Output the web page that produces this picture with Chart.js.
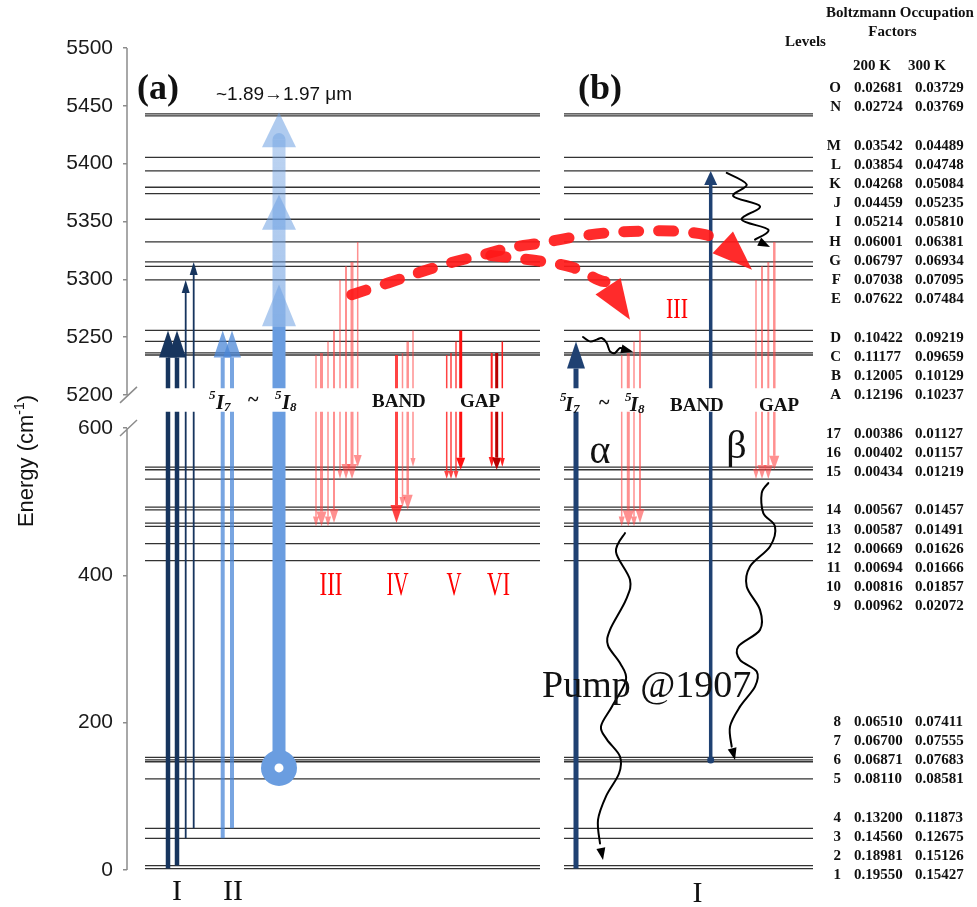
<!DOCTYPE html>
<html>
<head>
<meta charset="utf-8">
<script src="https://cdn.jsdelivr.net/npm/chart.js@4.4.0/dist/chart.umd.min.js"></script>
<style>
  html, body { margin: 0; padding: 0; background: #fff; }
  canvas { display: block; }
</style>
</head>
<body>
<canvas id="niveis" width="977" height="907"></canvas>
<script>
// Níveis de energia (cm-1)
const niveisSup = ["A", "B", "C", "D", "E", "F", "G", "H", "I", "J", "K", "L", "M", "N", "O"];
const energiaSup = [5234.5, 5236.3, 5246.3, 5255.8, 5299.4, 5311.2, 5315.0, 5332.3, 5351.9, 5374.1, 5379.6, 5393.7, 5405.5, 5441.3, 5443.1];
const niveisInf = ["1", "2", "3", "4", "5", "6", "7", "8", "9", "10", "11", "12", "13", "14", "15", "16", "17"];
const energiaInf = [2, 6, 43, 56.6, 123.6, 147, 149.5, 153, 420, 443, 466.4, 471, 489, 492.7, 530.8, 543.4, 547];

const ticksEnergia = [0, 200, 400, 600, 5200, 5250, 5300, 5350, 5400, 5450, 5500];

// Tabela de fatores de ocupação de Boltzmann
const tabelaNiveis = ["O", "N", "M", "L", "K", "J", "I", "H", "G", "F", "E", "D", "C", "B", "A",
  "17", "16", "15", "14", "13", "12", "11", "10", "9", "8", "7", "6", "5", "4", "3", "2", "1"];
const fator200K = [0.02681, 0.02724, 0.03542, 0.03854, 0.04268, 0.04459, 0.05214, 0.06001, 0.06797, 0.07038, 0.07622,
  0.10422, 0.11177, 0.12005, 0.12196, 0.00386, 0.00402, 0.00434, 0.00567, 0.00587, 0.00669, 0.00694, 0.00816, 0.00962,
  0.06510, 0.06700, 0.06871, 0.08110, 0.13200, 0.14560, 0.18981, 0.19550];
const fator300K = [0.03729, 0.03769, 0.04489, 0.04748, 0.05084, 0.05235, 0.05810, 0.06381, 0.06934, 0.07095, 0.07484,
  0.09219, 0.09659, 0.10129, 0.10237, 0.01127, 0.01157, 0.01219, 0.01457, 0.01491, 0.01626, 0.01666, 0.01857, 0.02072,
  0.07411, 0.07555, 0.07683, 0.08581, 0.11873, 0.12675, 0.15126, 0.15427];

// Transições (nível inicial -> nível final)
const bombeioI = [["1", "D"], ["2", "D"], ["3", "E"], ["4", "G"]];
const bombeioII = [["3", "D"], ["4", "D"]];
const decaimentoIII = [["A", "11"], ["B", "11"], ["C", "11"], ["D", "12"], ["E", "15"], ["F", "15"], ["G", "15"], ["H", "17"]];
const decaimentoIV = [["A", "12"], ["B", "14"], ["C", "13"], ["D", "17"]];
const decaimentoV = [["A", "15"], ["B", "15"], ["C", "15"], ["D", "16"]];
const decaimentoVI = [["B", "17"], ["B", "16"], ["C", "17"]];
const bombeioAlfa = [["1", "C"]];
const decaimentoAlfa = [["A", "11"], ["B", "11"], ["C", "11"], ["D", "12"]];
const bombeioBeta = [["7", "L"]];
const decaimentoBeta = [["E", "15"], ["F", "15"], ["G", "15"], ["H", "16"]];

// Bombeio largo do painel (a): início, topo e pontas (cm-1)
const bombeioLargo = { de: 138.6, ate: 5420.8 };
const pontasLargo = [[5444.5, 5414.2], [5373.2, 5342.9], [5295.4, 5259.3]];

// Curvas onduladas e tracejadas [x, energia]
const ondaAlfaTopo = [[583, 5250.1], [590, 5246.3], [596.7, 5247.8], [601.7, 5249.2], [606.7, 5244.9], [610, 5237.6], [615, 5236.3], [620, 5240.6], [625, 5239.1], [633, 5237.4]];
const ondaBetaTopo = [[726.7, 5392], [746.7, 5381.9], [733.3, 5371.8], [760, 5363.1], [741.7, 5351.6], [768.3, 5342.9], [755, 5334.3], [770, 5328]];
const ondaBetaBaixo = [[768.3, 525.3], [761.7, 511.7], [763.3, 484.6], [775, 466.4], [770, 439.2], [750, 412], [746.7, 384.9], [760, 353.2], [760, 326], [738.3, 303.4], [740, 285.3], [756.7, 269.4], [755, 249], [740, 221.8], [730, 194.7], [731.7, 167.5], [735, 149.4]];
const ondaAlfaBaixo = [[625, 457.4], [616, 432], [630, 394], [626, 367], [610, 326], [608, 305], [620, 281], [626, 258], [612, 222], [601, 195], [607, 177], [620, 154], [619, 131], [606, 100], [598, 68], [600, 36], [603, 13.6]];
const tracoComum = [[351.7, 5286.7], [388, 5296.8], [418, 5305.5], [450, 5314.1], [483, 5321.3]];
const tracoSuperior = [[511, 5327.4], [543, 5331.7], [577, 5336.9], [610, 5340.4], [642, 5341.7], [673, 5341.7], [705, 5338.6], [722, 5332.5], [752, 5308.3]];
const tracoInferior = [[511, 5318.7], [543, 5315.3], [573, 5310.1], [598, 5299.7], [605, 5298], [630, 5265.1]];

// ---- layout / estilo ----
const paineis = [[145, 540], [564, 813]];
const ROSA = "rgba(255,70,70,0.6)";
const VERMELHO = "rgba(255,35,35,0.85)";
const estiloI = { x: [168, 177, 185.7, 193.7], cor: "#17355e", lw: [4.5, 4.5, 1.8, 1.8], hw: [18, 18, 8, 8], hl: [27, 27, 13, 13] };
const estiloII = { x: [222.7, 232], cor: "rgba(75,135,215,0.75)", lw: [4, 4], hw: [18, 18], hl: [27, 27] };
const estiloIII = { x: [316, 321.5, 328, 334, 340, 346, 352, 357.7], cor: ROSA, lw: [1.5, 3, 1.5, 2, 1.5, 2, 3, 1.5], hw: [6, 10, 6, 9, 5, 9, 10, 8], hl: [10, 15, 10, 14, 9, 15, 15, 12] };
const estiloIV = { x: [396.5, 402.5, 407.7, 413], cor: [VERMELHO, ROSA, ROSA, ROSA], lw: [3, 1.5, 2.5, 1.5], hw: [12, 6, 10, 5], hl: [18, 10, 15, 9] };
const estiloV = { x: [446.7, 451, 456, 460.7], cor: [VERMELHO, VERMELHO, VERMELHO, "#ff1010"], lw: [1.5, 1.5, 1.5, 3], hw: [5, 5, 5, 9], hl: [8, 8, 8, 12] };
const estiloVI = { x: [491.7, 496.7, 502.3], cor: ["#ff2020", "#b80000", "#ff2020"], lw: [2, 3, 1.5], hw: [6, 9, 5], hl: [10, 12, 9] };
const estiloAlfa = { x: [576], cor: "#1f4172", lw: [5], hw: [18], hl: [27] };
const estiloAlfaRosa = { x: [621.7, 628.3, 634, 640], cor: ROSA, lw: [1.5, 3, 1.5, 2], hw: [6, 11, 6, 9], hl: [10, 16, 10, 14] };
const estiloBeta = { x: [710.7], cor: "#1f4172", lw: [3.5], hw: [13], hl: [14] };
const estiloBetaRosa = { x: [756, 762, 768.3, 774.3], cor: ROSA, lw: [1.5, 2, 2, 2.5], hw: [6, 9, 9, 10], hl: [10, 14, 14, 14] };
const linhaTabela = [0, 1, 3, 4, 5, 6, 7, 8, 9, 10, 11, 13, 14, 15, 16, 18, 19, 20, 22, 23, 24, 25, 26, 27, 33, 34, 35, 36, 38, 39, 40, 41];

// eixo quebrado: 0–600 embaixo, 5200–5500 em cima (escala ampliada)
const D = (e) => (e <= 600 ? e : 645 + (e - 5200) * 1.57);

const energiaDe = {};
niveisSup.forEach((n, i) => (energiaDe[n] = energiaSup[i]));
niveisInf.forEach((n, i) => (energiaDe[n] = energiaInf[i]));

function segmentos(energias) {
    const pts = [];
    energias.forEach((e) => {
        paineis.forEach(([x0, x1]) => {
            pts.push({ x: x0, y: D(e) }, { x: x1, y: D(e) }, { x: x1, y: null });
        });
    });
    return pts;
}

function seta(ctx, x, ya, yb, cor, lw, hw, hl) {
    const base = yb < ya ? yb + hl : yb - hl;
    ctx.strokeStyle = cor;
    ctx.fillStyle = cor;
    ctx.lineWidth = lw;
    ctx.lineCap = "butt";
    ctx.beginPath();
    ctx.moveTo(x, ya);
    ctx.lineTo(x, base);
    ctx.stroke();
    ctx.beginPath();
    ctx.moveTo(x, yb);
    ctx.lineTo(x - hw / 2, base);
    ctx.lineTo(x + hw / 2, base);
    ctx.closePath();
    ctx.fill();
}

function ponta(ctx, x0, y0, x1, y1, L, w, cor) {
    const a = Math.atan2(y1 - y0, x1 - x0);
    const bx = x1 - L * Math.cos(a), by = y1 - L * Math.sin(a);
    const nx = (-Math.sin(a) * w) / 2, ny = (Math.cos(a) * w) / 2;
    ctx.fillStyle = cor;
    ctx.beginPath();
    ctx.moveTo(x1, y1);
    ctx.lineTo(bx + nx, by + ny);
    ctx.lineTo(bx - nx, by - ny);
    ctx.closePath();
    ctx.fill();
}

function curva(ctx, pts) {
    ctx.beginPath();
    ctx.moveTo(pts[0][0], pts[0][1]);
    for (let i = 0; i < pts.length - 1; i++) {
        const p0 = pts[i - 1] || pts[i], p1 = pts[i], p2 = pts[i + 1], p3 = pts[i + 2] || p2;
        ctx.bezierCurveTo(
            p1[0] + (p2[0] - p0[0]) / 6, p1[1] + (p2[1] - p0[1]) / 6,
            p2[0] - (p3[0] - p1[0]) / 6, p2[1] - (p3[1] - p1[1]) / 6,
            p2[0], p2[1]
        );
    }
    ctx.stroke();
}

function ion(ctx, x, y, sub, d1, d2) {
    ctx.fillStyle = "#111";
    ctx.textAlign = "left";
    ctx.font = 'bold italic 13px "Liberation Serif"';
    ctx.fillText("5", x, y - 10);
    ctx.font = 'bold italic 21px "Liberation Serif"';
    ctx.fillText("I", x + d1, y);
    ctx.font = 'bold italic 13px "Liberation Serif"';
    ctx.fillText(sub, x + d2, y + 2);
}

const desenho = {
    id: "desenho",
    afterDatasetsDraw(chart) {
        const { ctx, chartArea: a, scales: { x: sx, y: sy } } = chart;
        const px = (v) => sx.getPixelForValue(v);
        const py = (e) => sy.getPixelForValue(D(e));
        const conv = (pts) => pts.map(([x, e]) => [px(x), py(e)]);
        ctx.save();

        // eixo vertical quebrado
        const y5200 = py(5200), y600 = py(600);
        ctx.strokeStyle = "#8c8c8c";
        ctx.lineWidth = 1.5;
        ctx.beginPath();
        ctx.moveTo(a.left, a.top);
        ctx.lineTo(a.left, y5200);
        ctx.moveTo(a.left, y600);
        ctx.lineTo(a.left, a.bottom);
        ctx.moveTo(a.left - 7, y5200 + 8);
        ctx.lineTo(a.left + 10, y5200 - 8);
        ctx.moveTo(a.left - 7, y600 + 8);
        ctx.lineTo(a.left + 10, y600 - 8);
        ctx.stroke();

        // faixa em branco entre as duas partes do eixo
        const bandaTopo = sy.getPixelForValue(654), bandaBase = sy.getPixelForValue(622);
        ctx.save();
        ctx.beginPath();
        ctx.rect(0, 0, chart.width, bandaTopo);
        ctx.rect(0, bandaBase, chart.width, chart.height - bandaBase);
        ctx.clip();

        const grupo = (trans, est) => {
            trans.forEach(([de, ate], i) => {
                const cor = Array.isArray(est.cor) ? est.cor[i] : est.cor;
                seta(ctx, px(est.x[i]), py(energiaDe[de]), py(energiaDe[ate]), cor, est.lw[i], est.hw[i], est.hl[i]);
            });
        };

        // bombeio largo (a)
        const xb = px(279);
        const yTopo = py(bombeioLargo.ate), yBase = py(bombeioLargo.de), yCorte = py(5259.3);
        ctx.lineCap = "butt";
        ctx.lineWidth = 13;
        ctx.strokeStyle = "#6a9de0";
        ctx.beginPath();
        ctx.moveTo(xb, yBase);
        ctx.lineTo(xb, yCorte);
        ctx.stroke();
        const grad = ctx.createLinearGradient(0, yTopo, 0, yCorte);
        grad.addColorStop(0, "rgba(106,157,224,0.45)");
        grad.addColorStop(1, "rgba(106,157,224,0.6)");
        ctx.strokeStyle = grad;
        ctx.beginPath();
        ctx.moveTo(xb, yCorte);
        ctx.lineTo(xb, yTopo);
        ctx.stroke();
        ctx.fillStyle = "rgba(106,157,224,0.45)";
        ctx.beginPath();
        ctx.arc(xb, yTopo, 6.5, Math.PI, 0);
        ctx.fill();
        pontasLargo.forEach(([t, b]) => {
            const yt = py(t), yb = py(b);
            ctx.fillStyle = "rgba(110,160,225,0.55)";
            ctx.beginPath();
            ctx.moveTo(xb, yt);
            ctx.lineTo(xb - 17, yb);
            ctx.lineTo(xb + 17, yb);
            ctx.closePath();
            ctx.fill();
        });

        grupo(bombeioI, estiloI);
        grupo(bombeioII, estiloII);
        grupo(decaimentoIII, estiloIII);
        grupo(decaimentoIV, estiloIV);
        grupo(decaimentoV, estiloV);
        grupo(decaimentoVI, estiloVI);
        grupo(bombeioAlfa, estiloAlfa);
        grupo(decaimentoAlfa, estiloAlfaRosa);
        grupo(bombeioBeta, estiloBeta);
        grupo(decaimentoBeta, estiloBetaRosa);
        ctx.restore();

        // círculo do bombeio e ponto do beta
        ctx.fillStyle = "#6a9de0";
        ctx.beginPath();
        ctx.arc(xb, yBase, 18, 0, 2 * Math.PI);
        ctx.fill();
        ctx.fillStyle = "#fff";
        ctx.beginPath();
        ctx.arc(xb, yBase, 4.5, 0, 2 * Math.PI);
        ctx.fill();
        ctx.fillStyle = "#1f4172";
        ctx.beginPath();
        ctx.arc(px(710.7), py(energiaDe["7"]), 3.5, 0, 2 * Math.PI);
        ctx.fill();

        // curvas onduladas pretas
        ctx.strokeStyle = "#000";
        ctx.lineWidth = 2;
        ctx.lineCap = "round";
        [ondaAlfaTopo, ondaBetaTopo, ondaBetaBaixo, ondaAlfaBaixo].forEach((onda) => {
            const p = conv(onda);
            const ult = p[p.length - 1], pen = p[p.length - 2];
            curva(ctx, p.slice(0, -1));
            ponta(ctx, pen[0], pen[1], ult[0], ult[1], 12, 9, "#000");
        });

        // setas tracejadas vermelhas
        ctx.strokeStyle = "rgba(255,25,25,0.92)";
        ctx.lineWidth = 11;
        ctx.lineCap = "round";
        ctx.setLineDash([15, 20]);
        const sup = conv(tracoComum.concat(tracoSuperior));
        curva(ctx, sup.slice(0, -1));
        const inf = conv(tracoComum.slice(-2).concat(tracoInferior));
        ctx.lineDashOffset = -8;
        curva(ctx, inf.slice(1, -1));
        ctx.setLineDash([]);
        ponta(ctx, sup[sup.length - 2][0], sup[sup.length - 2][1], sup[sup.length - 1][0], sup[sup.length - 1][1], 40, 30, "rgba(255,25,25,0.92)");
        ponta(ctx, inf[inf.length - 2][0], inf[inf.length - 2][1], inf[inf.length - 1][0], inf[inf.length - 1][1], 40, 30, "rgba(255,25,25,0.92)");

        // textos
        ctx.fillStyle = "#111";
        ctx.textBaseline = "alphabetic";
        ctx.textAlign = "left";
        ctx.font = 'bold 36px "Liberation Serif"';
        ctx.fillText("(a)", 137, 99);
        ctx.fillText("(b)", 578, 99);
        ctx.font = '19px "Liberation Sans"';
        ctx.fillText("~1.89\u21921.97 \u03bcm", 216, 100);

        ion(ctx, 209, 409, "7", 7, 15);
        ion(ctx, 275, 409, "8", 7, 15);
        ion(ctx, 560, 411, "7", 5, 13);
        ion(ctx, 625, 411, "8", 5, 13);
        ctx.font = 'bold 20px "Liberation Serif"';
        ctx.fillText("~", 248, 406);
        ctx.fillText("~", 599, 409);
        ctx.font = 'bold 19px "Liberation Serif"';
        ctx.fillText("BAND", 372, 407);
        ctx.fillText("GAP", 460, 407);
        ctx.fillText("BAND", 670, 411);
        ctx.fillText("GAP", 759, 411);

        ctx.fillStyle = "#ff0000";
        ctx.textAlign = "center";
        ctx.font = '33px "Liberation Serif"';
        ctx.fillText("III", 331, 595, 23);
        ctx.fillText("IV", 397.5, 595, 22);
        ctx.fillText("V", 454, 595, 15);
        ctx.fillText("VI", 498.5, 595, 23);
        ctx.font = '30px "Liberation Serif"';
        ctx.fillText("III", 677, 318, 22);

        ctx.fillStyle = "#111";
        ctx.font = '30px "Liberation Serif"';
        ctx.fillText("I", 177, 900);
        ctx.fillText("II", 233, 900);
        ctx.fillText("I", 697.5, 902);
        ctx.font = '40px "Liberation Serif"';
        ctx.fillText("\u03b1", 600, 463);
        ctx.fillText("\u03b2", 736.5, 458);
        ctx.textAlign = "left";
        ctx.font = '38px "Liberation Serif"';
        ctx.fillText("Pump @1907", 542, 697);

        // título do eixo y com expoente
        ctx.save();
        ctx.translate(25, 461);
        ctx.rotate(-Math.PI / 2);
        ctx.font = '22px "Liberation Sans"';
        const t1 = "Energy (cm", t3 = ")";
        const w1 = ctx.measureText(t1).width, w3 = ctx.measureText(t3).width;
        ctx.font = '14px "Liberation Sans"';
        const w2 = ctx.measureText("-1").width;
        let xx = -(w1 + w2 + w3) / 2;
        ctx.font = '22px "Liberation Sans"';
        ctx.fillText(t1, xx, 8);
        ctx.font = '14px "Liberation Sans"';
        ctx.fillText("-1", xx + w1, -1);
        ctx.font = '22px "Liberation Sans"';
        ctx.fillText(t3, xx + w1 + w2, 8);
        ctx.restore();

        // tabela de Boltzmann
        ctx.fillStyle = "#111";
        ctx.font = 'bold 15px "Liberation Serif"';
        ctx.textAlign = "center";
        ctx.fillText("Boltzmann Occupation", 900, 17);
        ctx.fillText("Factors", 892.5, 36);
        ctx.fillText("Levels", 805.5, 46);
        ctx.fillText("200 K", 872, 70);
        ctx.fillText("300 K", 927, 70);
        tabelaNiveis.forEach((n, i) => {
            const y = 87 + linhaTabela[i] * 19.2 + 5;
            ctx.textAlign = "right";
            ctx.fillText(n, 841, y);
            ctx.textAlign = "left";
            ctx.fillText(fator200K[i].toFixed(5), 854, y);
            ctx.fillText(fator300K[i].toFixed(5), 915, y);
        });
        ctx.restore();
    },
};

const ctx = document.getElementById("niveis").getContext("2d");

new Chart(ctx, {
    type: "scatter",
    data: {
        datasets: [
            {
                label: "Níveis 5I8",
                data: segmentos(energiaInf),
                showLine: true,
                borderColor: "#333",
                borderWidth: 1.3,
                pointRadius: 0,
            },
            {
                label: "Níveis 5I7",
                data: segmentos(energiaSup),
                showLine: true,
                borderColor: "#333",
                borderWidth: 1.3,
                pointRadius: 0,
            },
        ],
    },
    options: {
        responsive: false,
        animation: false,
        events: [],
        layout: { padding: { top: 48, bottom: 37, left: 0, right: 17 } },
        plugins: {
            legend: { display: false },
            tooltip: { enabled: false },
            title: { display: false },
        },
        scales: {
            x: { type: "linear", min: 127, max: 960, display: false },
            y: {
                type: "linear",
                min: 0,
                max: D(5500),
                afterBuildTicks: (s) => {
                    s.ticks = ticksEnergia.map((e) => ({ value: D(e) }));
                },
                afterFit: (s) => {
                    s.width = 127;
                },
                border: { display: false },
                grid: { drawOnChartArea: false, tickLength: 4, color: "#8c8c8c", lineWidth: 1.5 },
                ticks: {
                    autoSkip: false,
                    padding: 10,
                    color: "#1a1a1a",
                    font: { family: '"Liberation Sans", Arial', size: 21 },
                    callback: (v) => {
                        const e = ticksEnergia.find((t) => Math.abs(D(t) - v) < 0.01);
                        return e === undefined ? "" : String(e);
                    },
                },
            },
        },
    },
    plugins: [desenho],
});
</script>
</body>
</html>
